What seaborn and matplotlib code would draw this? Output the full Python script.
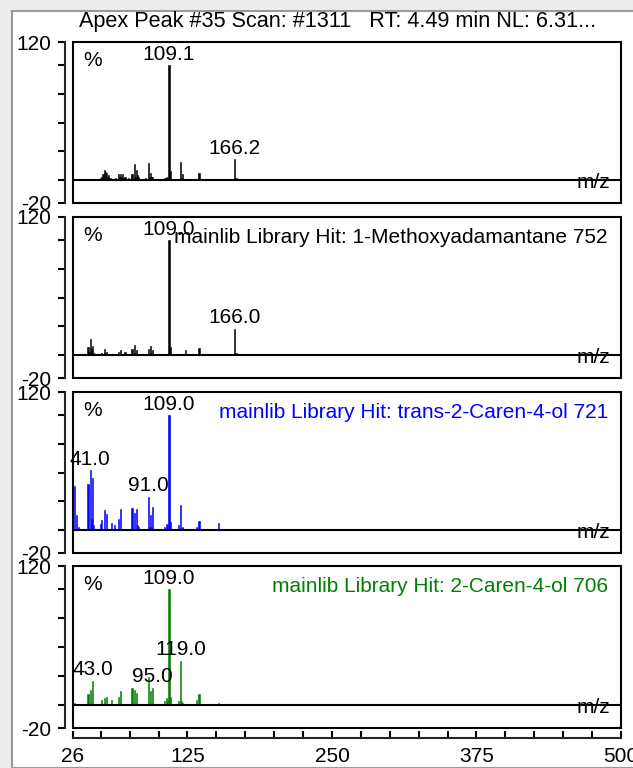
import pandas as pd
import matplotlib
matplotlib.use('Agg')
import matplotlib.pyplot as plt
from matplotlib.patches import Rectangle
from matplotlib.ticker import FixedLocator
import seaborn as sns

# titulo do espectro
title = 'Apex Peak #35 Scan: #1311   RT: 4.49 min NL: 6.31...'

# espectro medido (apex)
mz_apex = [50, 51, 52, 53, 54, 55, 56, 57, 58, 63, 65, 66, 67, 68, 69, 70, 71, 74,
           77, 79, 80, 81, 82, 83, 89, 91, 92, 93, 94, 95, 97, 105, 107, 108, 109,
           110, 119, 120, 121, 135, 136, 151, 152, 165, 166, 167, 175, 180, 190]
int_apex = [2, 3, 5, 9, 7, 6, 3, 4, 2, 2, 5, 3, 5, 3, 5, 2, 3, 2,
            5, 14, 3, 9, 4, 3, 2, 15, 3, 6, 3, 3, 1, 2, 3, 2, 100,
            8, 16, 2, 5, 6, 1, 1, 1, 1, 18, 2, 0.5, 0.5, 0.5]
lbl_apex_mz = [109, 166]
lbl_apex_txt = ['109.1', '166.2']

# hit 1: 1-Methoxyadamantane
mz_hit1 = [35, 39, 40, 41, 42, 43, 44, 51, 53, 54, 55, 65, 67, 68, 71, 77, 79, 80,
           81, 91, 93, 94, 95, 105, 108, 109, 110, 123, 124, 135, 136, 166, 167]
int_hit1 = [1, 7, 3, 14, 5, 8, 2, 2, 5, 2, 3, 3, 4, 1, 3, 5, 9, 2,
            4, 5, 8, 2, 4, 1, 1, 100, 7, 4, 1, 6, 1, 23, 2]
lbl_hit1_mz = [109, 166]
lbl_hit1_txt = ['109.0', '166.0']

# hit 2: trans-2-Caren-4-ol
mz_hit2 = [27, 29, 31, 39, 41, 42, 43, 44, 50, 51, 53, 55, 59, 62, 65, 67, 77, 79,
           81, 82, 83, 91, 92, 93, 94, 95, 105, 107, 108, 109, 110, 117, 119, 120,
           121, 133, 135, 152]
int_hit2 = [38, 13, 3, 40, 52, 10, 45, 4, 5, 9, 17, 14, 6, 4, 10, 18, 19, 15,
            18, 4, 3, 29, 3, 13, 3, 20, 3, 5, 4, 100, 7, 4, 22, 2,
            3, 3, 8, 6]
lbl_hit2_mz = [41, 91, 109]
lbl_hit2_txt = ['41.0', '91.0', '109.0']

# hit 3: 2-Caren-4-ol
mz_hit3 = [27, 29, 39, 41, 43, 51, 53, 55, 59, 65, 67, 77, 79, 81, 91, 93, 95,
           105, 107, 108, 109, 110, 117, 119, 120, 121, 133, 135, 152]
int_hit3 = [2, 1, 9, 13, 21, 4, 6, 7, 4, 7, 12, 15, 13, 10, 24, 12, 15,
            3, 6, 4, 100, 7, 3, 38, 3, 2, 4, 9, 2]
lbl_hit3_mz = [43, 95, 109, 119]
lbl_hit3_txt = ['43.0', '95.0', '109.0', '119.0']

hit_names = ['', 'mainlib Library Hit: 1-Methoxyadamantane 752',
             'mainlib Library Hit: trans-2-Caren-4-ol 721',
             'mainlib Library Hit: 2-Caren-4-ol 706']
cores = ['black', 'black', '#0000ff', '#008000']

spectra = [(mz_apex, int_apex, lbl_apex_mz, lbl_apex_txt),
           (mz_hit1, int_hit1, lbl_hit1_mz, lbl_hit1_txt),
           (mz_hit2, int_hit2, lbl_hit2_mz, lbl_hit2_txt),
           (mz_hit3, int_hit3, lbl_hit3_mz, lbl_hit3_txt)]

sns.set_style('white')
plt.rcParams['font.family'] = ['Liberation Sans', 'DejaVu Sans']
for k in ['text.color', 'axes.labelcolor', 'xtick.color', 'ytick.color']:
    plt.rcParams[k] = 'black'

W, H = 633, 768
fig = plt.figure(figsize=(W / 100, H / 100), dpi=100, facecolor='#efecec')
fig.patches.append(Rectangle((12 / W, 0), 1, 1 - 11 / H, transform=fig.transFigure,
                             facecolor='white', edgecolor='#9a9a9a', lw=1.5, zorder=-5))
fig.text(338 / W, 1 - 21 / H, title, ha='center', va='center', fontsize=15.6)

panel_px = [(42, 203), (217, 378), (392, 553), (566, 728)]
fs = 15

for i, (mz, inten, lmz, ltxt) in enumerate(spectra):
    top, bot = panel_px[i]
    ax = fig.add_axes([73 / W, 1 - bot / H, 548 / W, (bot - top) / H])
    ax.patch.set_alpha(0)
    df = pd.DataFrame({'mz': mz, 'intensidade': inten})
    sns.barplot(data=df, x='mz', y='intensidade', native_scale=True, color=cores[i],
                saturation=1, width=1.0, edgecolor=cores[i], linewidth=0.4, ax=ax)
    ax.set_xlim(26, 500)
    ax.set_ylim(-20, 120)
    ax.axhline(0, color='black', lw=1.5, zorder=4)
    ax.set_xlabel('')
    ax.set_ylabel('')

    for s in ['top', 'right', 'bottom']:
        ax.spines[s].set_visible(False)
    ax.spines['left'].set_position(('outward', 6))
    ax.spines['left'].set_linewidth(1.5)
    ax.set_yticks([-20, 120])
    ax.set_yticklabels(['-20', '120'])
    ax.yaxis.set_minor_locator(FixedLocator([0, 25, 50, 75, 100]))
    ax.tick_params(axis='y', which='both', left=True, length=5, width=1.5,
                   direction='out', pad=5, labelsize=fs)
    ax.add_patch(Rectangle((0, 0), 1, 1, transform=ax.transAxes, fill=False,
                           lw=1.5, ec='black', clip_on=False, zorder=5))

    if i < 3:
        ax.tick_params(axis='x', which='both', bottom=False, labelbottom=False)
    else:
        ax.spines['bottom'].set_visible(True)
        ax.spines['bottom'].set_position(('outward', 7))
        ax.spines['bottom'].set_linewidth(1.5)
        ax.set_xticks([26, 125, 250, 375, 500])
        ax.set_xticklabels(['26', '125', '250', '375', '500'])
        ax.xaxis.set_minor_locator(FixedLocator([50, 75, 100, 150, 175, 200, 225, 275,
                                                 300, 325, 350, 400, 425, 450, 475]))
        ax.tick_params(axis='x', which='both', bottom=True, length=5, width=1.5,
                       direction='in', pad=7, labelsize=fs)

    # rotulos dos picos
    alturas = dict(zip(mz, inten))
    for m, t in zip(lmz, ltxt):
        ax.annotate(t, (m, alturas[m]), xytext=(0, 1), textcoords='offset points',
                    ha='center', va='bottom', fontsize=fs, zorder=6)

    ax.text(0.036, 0.885, '%', transform=ax.transAxes, ha='center', va='center',
            fontsize=fs)
    if hit_names[i]:
        ax.text(0.976, 0.875, hit_names[i], transform=ax.transAxes, ha='right',
                va='center', fontsize=fs, color=cores[i])
    ax.text(0.98, -2, 'm/z', transform=ax.get_yaxis_transform(), ha='right',
            va='center', fontsize=fs)

plt.savefig('out.png', dpi=100)
